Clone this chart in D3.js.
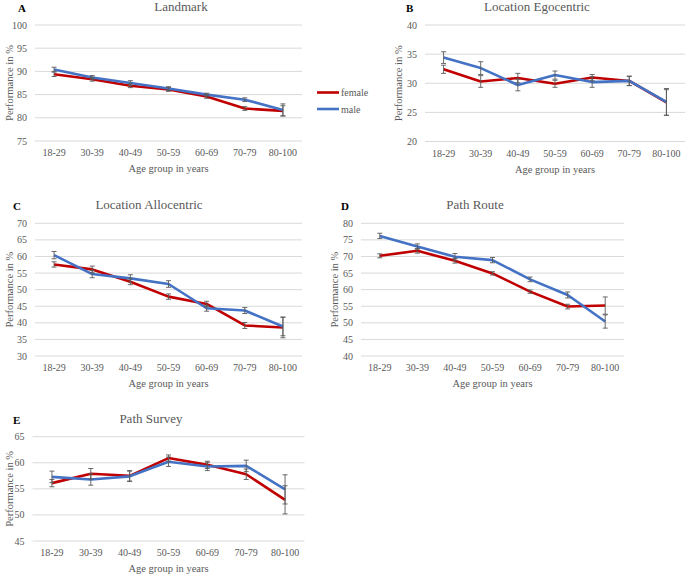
<!DOCTYPE html>
<html lang="en">
<head>
    <meta charset="UTF-8">
    <title>Performance by age group</title>
    <script src="https://d3js.org/d3.v7.min.js"></script>
    <style>
        body { margin: 0; background: #fff; }
        .tick-label { fill: #595959; font-size: 10px; }
        .axis-title { fill: #595959; font-size: 10.5px; }
        .panel-title { fill: #595959; font-size: 13px; }
        .panel-letter { fill: #000; font-size: 11px; font-weight: bold; }
    </style>
</head>
<body>
<svg id="chart" width="685" height="575" font-family="'Liberation Serif', 'DejaVu Serif', serif"></svg>
<script>
    const ageGroups = ["18-29", "30-39", "40-49", "50-59", "60-69", "70-79", "80-100"];

    // A - Landmark
    const landmarkFemale = [89.4, 88.3, 86.9, 86.1, 84.6, 82.0, 81.5];
    const landmarkFemaleErr = [0.5, 0.4, 0.4, 0.4, 0.4, 0.4, 1.1];
    const landmarkMale = [90.4, 88.7, 87.5, 86.3, 85.0, 83.9, 81.7];
    const landmarkMaleErr = [0.5, 0.4, 0.5, 0.4, 0.3, 0.4, 1.3];

    // B - Location Egocentric
    const egoFemale = [32.4, 30.3, 30.9, 29.9, 31.0, 30.4, 26.7];
    const egoFemaleErr = [0.7, 1.0, 0.8, 0.6, 0.5, 0.8, 2.2];
    const egoMale = [34.4, 32.6, 29.7, 31.4, 30.2, 30.4, 26.8];
    const egoMaleErr = [1.0, 1.1, 1.0, 0.7, 0.9, 0.8, 2.3];

    // C - Location Allocentric
    const alloFemale = [57.6, 56.1, 52.4, 47.9, 45.7, 39.2, 38.6];
    const alloFemaleErr = [0.8, 1.0, 0.9, 0.8, 0.8, 0.9, 3.1];
    const alloMale = [60.4, 54.7, 53.4, 51.7, 44.4, 43.7, 38.9];
    const alloMaleErr = [1.1, 1.1, 1.1, 1.0, 0.9, 0.9, 2.8];

    // D - Path Route
    const routeFemale = [70.2, 71.7, 68.7, 64.9, 59.4, 54.9, 55.2];
    const routeFemaleErr = [0.6, 0.7, 0.7, 0.5, 0.5, 0.7, 2.6];
    const routeMale = [76.2, 73.0, 69.9, 68.9, 63.1, 58.4, 50.4];
    const routeMaleErr = [0.8, 0.8, 1.0, 0.8, 0.7, 0.9, 2.0];

    // E - Path Survey
    const surveyFemale = [56.1, 57.9, 57.5, 60.9, 59.6, 57.8, 52.9];
    const surveyFemaleErr = [0.7, 1.0, 1.0, 0.6, 0.7, 1.0, 2.7];
    const surveyMale = [57.3, 56.8, 57.4, 60.2, 59.3, 59.4, 54.9];
    const surveyMaleErr = [1.1, 1.1, 1.0, 0.9, 0.8, 1.1, 2.8];

    const femaleColor = "#c00000";
    const maleColor = "#4472c4";
    const gridColor = "#d9d9d9";
    const errColor = "#595959";
    const serif = "'Liberation Serif', 'DejaVu Serif', serif";

    const panels = [
        { letter: "A", title: "Landmark", domain: [75, 100], female: landmarkFemale, femaleErr: landmarkFemaleErr, male: landmarkMale, maleErr: landmarkMaleErr,
          x0: 35, x1: 302, y0: 25, y1: 141, titleX: 181, letterX: 18, yLabelX: 9 },
        { letter: "B", title: "Location Egocentric", domain: [20, 40], female: egoFemale, femaleErr: egoFemaleErr, male: egoMale, maleErr: egoMaleErr,
          x0: 425, x1: 685, y0: 25, y1: 141.5, titleX: 537, letterX: 406, yLabelX: 398 },
        { letter: "C", title: "Location Allocentric", domain: [30, 70], female: alloFemale, femaleErr: alloFemaleErr, male: alloMale, maleErr: alloMaleErr,
          x0: 35, x1: 302, y0: 223.3, y1: 356, titleX: 149, letterX: 13, yLabelX: 9 },
        { letter: "D", title: "Path Route", domain: [40, 80], female: routeFemale, femaleErr: routeFemaleErr, male: routeMale, maleErr: routeMaleErr,
          x0: 361, x1: 624, y0: 223.3, y1: 356, titleX: 475, letterX: 341, yLabelX: 334 },
        { letter: "E", title: "Path Survey", domain: [45, 65], female: surveyFemale, femaleErr: surveyFemaleErr, male: surveyMale, maleErr: surveyMaleErr,
          x0: 32.5, x1: 304.5, y0: 436.7, y1: 541, titleX: 151, letterX: 13, yLabelX: 9 }
    ];

    const svg = d3.select("#chart");

    panels.forEach(p => {
        const g = svg.append("g").attr("font-family", serif);
        const x = d3.scaleBand().domain(ageGroups).range([p.x0, p.x1]);
        const y = d3.scaleLinear().domain(p.domain).range([p.y1, p.y0]);
        const cx = d => x(d) + x.bandwidth() / 2;
        const yTicks = d3.range(p.domain[0], p.domain[1] + 0.001, 5);

        // gridlines
        g.selectAll(".grid").data(yTicks).enter().append("line")
            .attr("x1", p.x0).attr("x2", p.x1)
            .attr("y1", d => y(d)).attr("y2", d => y(d))
            .attr("stroke", gridColor).attr("stroke-width", 1);

        // y tick labels
        g.selectAll(".ytick").data(yTicks).enter().append("text")
            .attr("class", "tick-label")
            .attr("x", p.x0 - 8).attr("y", d => y(d)).attr("dy", "0.35em")
            .attr("text-anchor", "end")
            .text(d => d);

        // x tick labels
        g.selectAll(".xtick").data(ageGroups).enter().append("text")
            .attr("class", "tick-label")
            .attr("x", cx).attr("y", p.y1 + 15)
            .attr("text-anchor", "middle")
            .text(d => d);

        // axis titles
        g.append("text").attr("class", "axis-title")
            .attr("x", (p.x0 + p.x1) / 2).attr("y", p.y1 + 31)
            .attr("text-anchor", "middle")
            .text("Age group in years");
        g.append("text").attr("class", "axis-title")
            .attr("transform", `translate(${p.yLabelX},${(p.y0 + p.y1) / 2}) rotate(-90)`)
            .attr("dy", "0.35em")
            .attr("text-anchor", "middle")
            .text("Performance in %");

        // title and letter
        g.append("text").attr("class", "panel-title")
            .attr("x", p.titleX).attr("y", p.y0 - 14)
            .attr("text-anchor", "middle")
            .text(p.title);
        g.append("text").attr("class", "panel-letter")
            .attr("x", p.letterX).attr("y", p.y0 - 13)
            .text(p.letter);

        const series = [
            { values: p.female, err: p.femaleErr, color: femaleColor },
            { values: p.male, err: p.maleErr, color: maleColor }
        ];

        const line = d3.line().x((d, i) => cx(ageGroups[i])).y(d => y(d));

        series.forEach(s => {
            g.append("path")
                .datum(s.values)
                .attr("d", line)
                .attr("fill", "none")
                .attr("stroke", s.color)
                .attr("stroke-width", 2.6)
                .attr("stroke-linejoin", "round");
        });

        series.forEach(s => {
            const eb = g.append("g").attr("stroke", errColor).attr("stroke-width", 0.9);
            s.values.forEach((v, i) => {
                const px = cx(ageGroups[i]);
                const top = y(v + s.err[i]);
                const bot = y(v - s.err[i]);
                eb.append("line").attr("x1", px).attr("x2", px).attr("y1", top).attr("y2", bot);
                eb.append("line").attr("x1", px - 2.5).attr("x2", px + 2.5).attr("y1", top).attr("y2", top);
                eb.append("line").attr("x1", px - 2.5).attr("x2", px + 2.5).attr("y1", bot).attr("y2", bot);
            });
        });
    });

    // legend (between panels A and B)
    const legend = svg.append("g").attr("font-family", serif);
    [["female", femaleColor, 92.5], ["male", maleColor, 109]].forEach(([label, color, ly]) => {
        legend.append("line")
            .attr("x1", 317).attr("x2", 339).attr("y1", ly).attr("y2", ly)
            .attr("stroke", color).attr("stroke-width", 2.6);
        legend.append("text").attr("class", "tick-label")
            .attr("x", 341).attr("y", ly).attr("dy", "0.35em")
            .text(label);
    });
</script>
</body>
</html>
